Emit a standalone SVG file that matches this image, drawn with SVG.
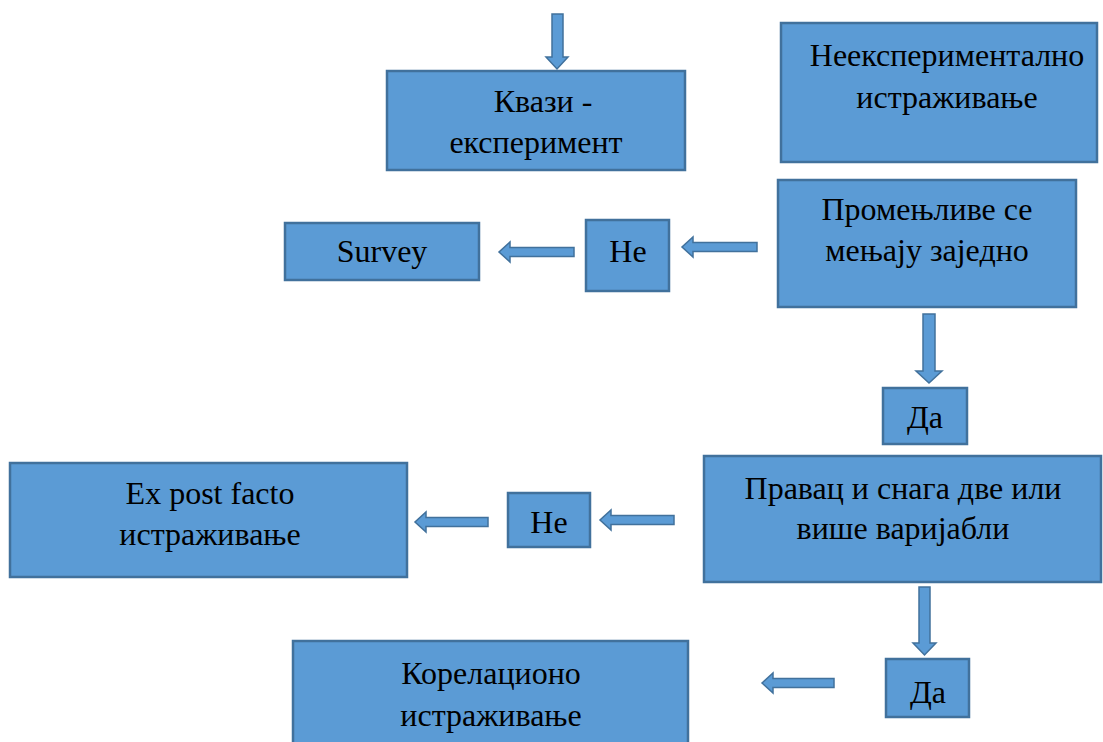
<svg xmlns="http://www.w3.org/2000/svg" width="1103" height="742" viewBox="0 0 1103 742">
<style>
.box{fill:#5b9bd5;stroke:#41719c;stroke-width:2.5}
.arr{fill:#5b9bd5;stroke:#41719c;stroke-width:1.5;stroke-linejoin:miter}
text{font-family:"Liberation Serif","Times New Roman",serif;font-size:32px;fill:#000;text-anchor:middle}
</style>
<rect width="1103" height="742" fill="#fff"/>
<g id="connectors">
<path class="arr" d="M552,14 H563 V57 H568 L557,69 L546,57 H552 Z"/>
<path class="arr" d="M923,314 H935 V371 H942 L929,383 L916,371 H923 Z"/>
<path class="arr" d="M919,587 H930 V643 H936 L924.5,655 L913,643 H919 Z"/>
<path class="arr" d="M757,242.5 V251.5 H693 V257 L682,247 L693,237 V242.5 Z"/>
<path class="arr" d="M574,247.5 V256.5 H510 V262 L499,252 L510,242 V247.5 Z"/>
<path class="arr" d="M674,515.5 V524.5 H611 V530 L600,520 L611,510 V515.5 Z"/>
<path class="arr" d="M488,517.5 V526.5 H426 V532 L415,522 L426,512 V517.5 Z"/>
<path class="arr" d="M834,678.5 V687.5 H773 V693 L762,683 L773,673 V678.5 Z"/>
</g>
<g id="n-kvazi"><rect class="box" x="387" y="71" width="298" height="99"/><text x="543" y="112">Квази -</text><text x="536" y="153">експеримент</text></g>
<g id="n-neeksp"><rect class="box" x="781" y="23" width="316" height="139"/><text x="947" y="66">Неекспериментално</text><text x="947" y="108">истраживање</text></g>
<g id="n-promen"><rect class="box" x="778" y="180" width="298" height="127"/><text x="927" y="220">Промењливе се</text><text x="927" y="261">мењају заједно</text></g>
<g id="n-survey"><rect class="box" x="285" y="223" width="194" height="57"/><text x="382" y="262">Survey</text></g>
<g id="n-ne1"><rect class="box" x="586" y="220" width="83" height="71"/><text x="628" y="262">Не</text></g>
<g id="n-da1"><rect class="box" x="883" y="388" width="84" height="56"/><text x="925" y="428">Да</text></g>
<g id="n-pravac"><rect class="box" x="704" y="456" width="397" height="126"/><text x="903" y="499">Правац и снага две или</text><text x="903" y="539">више варијабли</text></g>
<g id="n-expost"><rect class="box" x="10" y="463" width="397" height="114"/><text x="210" y="504">Ex post facto</text><text x="210" y="545">истраживање</text></g>
<g id="n-ne2"><rect class="box" x="508" y="493" width="82" height="54"/><text x="549" y="533">Не</text></g>
<g id="n-korel"><rect class="box" x="293" y="641" width="395" height="110"/><text x="491" y="684">Корелационо</text><text x="491" y="726">истраживање</text></g>
<g id="n-da2"><rect class="box" x="886" y="659" width="83" height="58"/><text x="928" y="703">Да</text></g>
</svg>
